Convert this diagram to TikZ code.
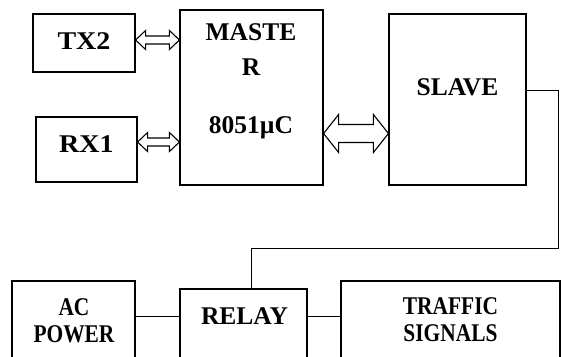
\documentclass[tikz,border=0pt]{standalone}
\usepackage{fontspec}
\setmainfont{Liberation Serif}
\newfontfamily\narrowserif[FakeStretch=0.84]{Liberation Serif}
\newfontfamily\wideserif[FakeStretch=1.1]{Liberation Serif}
\usetikzlibrary{arrows.meta, positioning, calc}

% hollow double-headed block arrow: from, to, shaft half width, head half width, head length
\newcommand{\dblarrow}[5]{%
  \draw[arrline] (#1) -- ($(#1)+(#5,-#4)$) -- ($(#1)+(#5,-#3)$) -- ($(#2)+(-#5,-#3)$)
    -- ($(#2)+(-#5,-#4)$) -- (#2) -- ($(#2)+(-#5,#4)$) -- ($(#2)+(-#5,#3)$)
    -- ($(#1)+(#5,#3)$) -- ($(#1)+(#5,#4)$) -- cycle;}

\begin{document}
\begin{tikzpicture}[
  x=1pt, y=-1pt,
  box/.style={draw, line width=1.2pt, inner sep=0pt},
  lbl/.style={font=\fontsize{25.5}{27}\selectfont\bfseries, align=center, inner sep=0pt},
  narrowlbl/.style={lbl, font=\fontsize{25.5}{27}\selectfont\narrowserif\bfseries},
  widelbl/.style={lbl, font=\fontsize{25.5}{27}\selectfont\wideserif\bfseries},
  wire/.style={line width=0.8pt},
  arrline/.style={line width=1.1pt, line join=miter, fill=white},
]
\clip (0,0) rectangle (562,356);

% --- upper row: transceivers, master and slave ---
\node[box, minimum width=102pt, minimum height=58pt] (tx2) at (84,43) {};
\node[box, minimum width=101pt, minimum height=65pt] (rx1) at (86.5,149.5) {};
\node[box, minimum width=143pt, minimum height=175pt] (master) at (251.5,97.5) {};
\node[box, minimum width=137pt, minimum height=171pt] (slave) at (457.5,99.5) {};

\node[widelbl] (tx2text) at (84,41) {TX2};
\node[widelbl] (rx1text) at (86.5,144) {RX1};
\node[lbl] (mastertext) at (251,81.5) {MASTE\\[8pt]R\\[31pt]8051\textmu C};
\node[lbl] (slavetext) at (457.5,87.5) {SLAVE};

% --- lower row: power, relay and signals ---
\node[box, minimum width=123pt, minimum height=89pt] (acpower) at (73.5,325.5) {};
\node[box, minimum width=127pt, minimum height=81pt] (relay) at (243.5,329.5) {};
\node[box, minimum width=219pt, minimum height=89pt] (traffic) at (450.5,325.5) {};

\node[narrowlbl] (actext) at (74,321) {AC\\POWER};
\node[lbl] (relaytext) at (244.5,316) {RELAY};
\node[narrowlbl] (traffictext) at (450.5,320) {TRAFFIC\\SIGNALS};

% --- data links ---
\coordinate (txlink) at ([yshift=3pt]tx2.east);
\coordinate (rxlink) at ([yshift=7.5pt]rx1.east);
\coordinate (mslink) at ([yshift=-36pt]master.east);
\coordinate (txend) at (txlink -| master.west);
\coordinate (rxend) at (rxlink -| master.west);
\coordinate (msend) at (mslink -| slave.west);
\dblarrow{txlink}{txend}{4}{9.5}{10}
\dblarrow{rxlink}{rxend}{4}{9.5}{10}
\dblarrow{mslink}{msend}{9}{19}{15}

% --- control and power wiring ---
\coordinate (bend) at (558,248);
\draw[wire] ([yshift=9.5pt]slave.east) -| (bend) -| ([xshift=7.5pt]relay.north);
\draw[wire] (acpower.east |- relaytext) -- (relay.west |- relaytext);
\draw[wire] (relay.east |- relaytext) -- (traffic.west |- relaytext);

\end{tikzpicture}
\end{document}
